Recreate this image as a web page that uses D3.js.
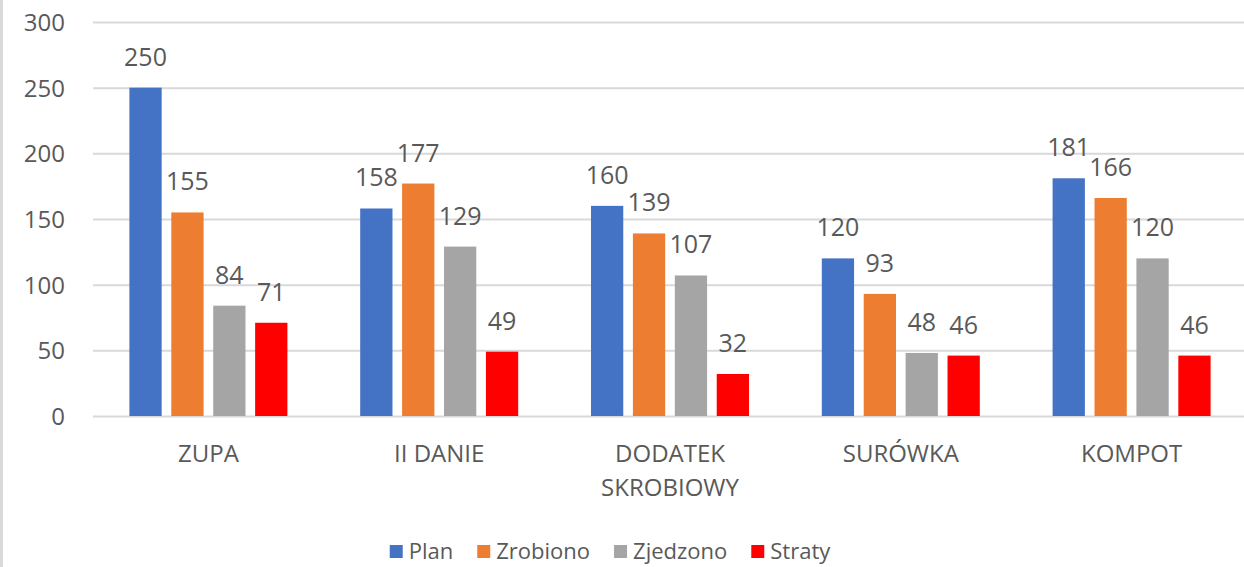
<!DOCTYPE html>
<html><head><meta charset="utf-8">
<script src="https://cdn.jsdelivr.net/npm/d3@7"></script>
<style>
html,body{margin:0;padding:0;background:#fff;}
svg{display:block;font-family:"Open Sans",sans-serif;}
</style></head>
<body>
<svg id="chart" width="1244" height="567"></svg>
<script>
const categories = ["ZUPA", "II DANIE", "DODATEK SKROBIOWY", "SURÓWKA", "KOMPOT"];
const seriesNames = ["Plan", "Zrobiono", "Zjedzono", "Straty"];
const plan = [250, 158, 160, 120, 181];
const zrobiono = [155, 177, 139, 93, 166];
const zjedzono = [84, 129, 107, 48, 120];
const straty = [71, 49, 32, 46, 46];
const colors = ["#4472c4", "#ed7d31", "#a5a5a5", "#ff0000"];
const yTicks = [0, 50, 100, 150, 200, 250, 300];

const seriesValues = [plan, zrobiono, zjedzono, straty];
const svg = d3.select("#chart");
const textColor = "#595959";

// left border
svg.append("rect").attr("x", 0).attr("y", 0).attr("width", 3).attr("height", 567).attr("fill", "#d9d9d9");

const y = d3.scaleLinear().domain([0, 300]).range([416, 22]);
const x0 = d3.scaleBand().domain(categories).range([93, 1247]).paddingInner(0).paddingOuter(0);
const bw = x0.bandwidth();
const x1 = d3.scaleBand().domain(seriesNames).range([bw/2 - 79, bw/2 + 79]).paddingInner(0.23).paddingOuter(0);

// gridlines
const yAxis = d3.axisLeft(y).tickValues(yTicks).tickSize(-(1247 - 93)).tickPadding(28);
const gAxis = svg.append("g").attr("transform", "translate(93,0)").call(yAxis);
gAxis.select(".domain").remove();
gAxis.selectAll(".tick line").attr("stroke", "#d9d9d9").attr("stroke-width", 2);
gAxis.selectAll(".tick text").attr("fill", textColor).attr("font-size", 24)
  .attr("font-family", "Open Sans, sans-serif").attr("dy", "0.36em");

// bars
const groups = svg.append("g").selectAll("g").data(categories).join("g")
  .attr("transform", d => `translate(${x0(d)},0)`);

seriesNames.forEach((s, si) => {
  groups.append("rect")
    .attr("x", x1(s))
    .attr("y", (d, i) => y(seriesValues[si][i]))
    .attr("width", x1.bandwidth())
    .attr("height", (d, i) => y(0) - y(seriesValues[si][i]))
    .attr("fill", colors[si]);
  groups.append("text")
    .attr("x", x1(s) + x1.bandwidth()/2)
    .attr("y", (d, i) => y(seriesValues[si][i]) - 22)
    .attr("text-anchor", "middle")
    .attr("font-size", 25)
    .attr("fill", textColor)
    .text((d, i) => seriesValues[si][i]);
});

// category labels
const xAxis = d3.axisBottom(x0).tickSize(0).tickPadding(0);
const gx = svg.append("g").attr("transform", "translate(0,416)").call(xAxis);
gx.select(".domain").remove();
gx.selectAll(".tick text").remove();
gx.selectAll(".tick").each(function(d) {
  const words = d === "DODATEK SKROBIOWY" ? ["DODATEK", "SKROBIOWY"] : [d];
  const t = d3.select(this).append("text")
    .attr("text-anchor", "middle").attr("fill", textColor)
    .attr("font-size", 24).attr("font-family", "Open Sans, sans-serif");
  words.forEach((w, i) => {
    t.append("tspan").attr("x", 0).attr("y", 46 + i * 34).text(w);
  });
});

// legend
const legend = svg.append("g");
let xpos = 0;
seriesNames.forEach((s, i) => {
  const g = legend.append("g").attr("transform", `translate(${xpos},0)`);
  g.append("rect").attr("x", 0).attr("y", 545).attr("width", 13).attr("height", 13).attr("fill", colors[i]);
  const t = g.append("text").attr("x", 19).attr("y", 559).attr("font-size", 22).attr("fill", textColor).text(s);
  xpos += 19 + t.node().getComputedTextLength() + 24;
});
const total = xpos - 24;
legend.attr("transform", `translate(${610 - total/2},0)`);
</script>
</body></html>
